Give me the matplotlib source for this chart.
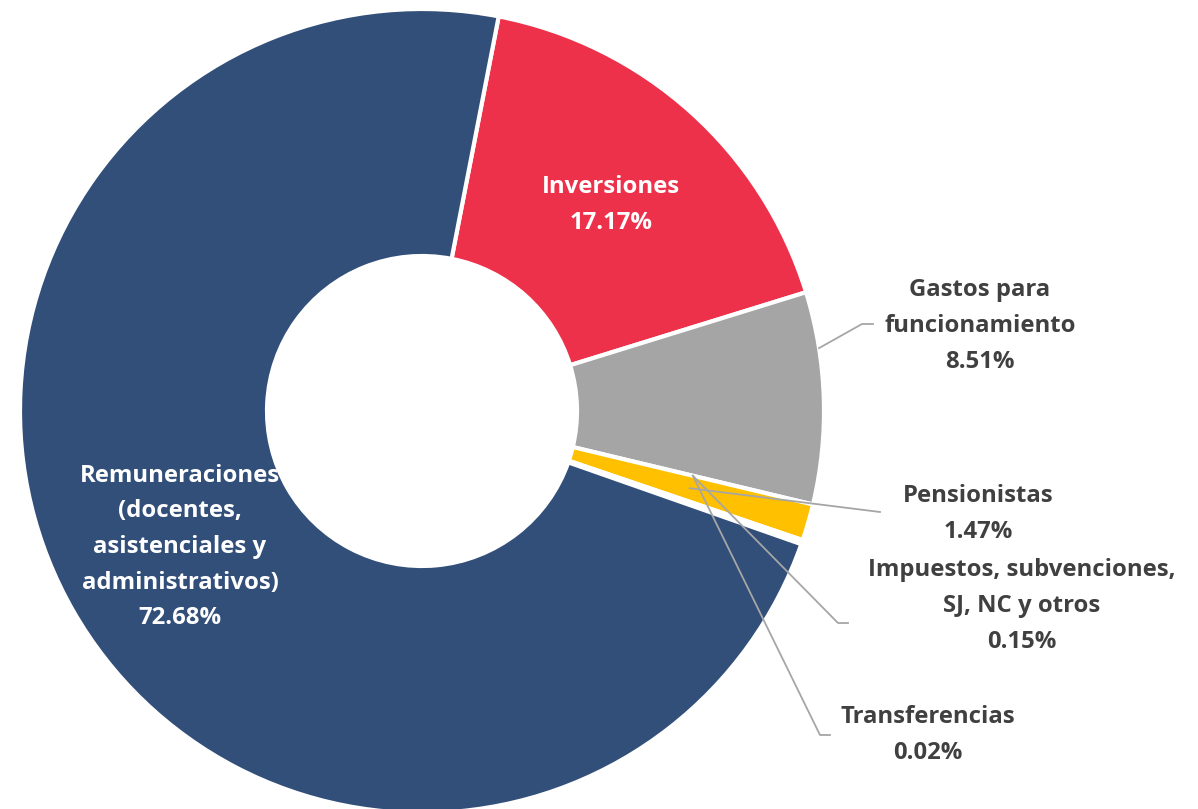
import numpy as np
import matplotlib.pyplot as plt

# datos (orden en sentido horario desde arriba)
categorias = ["Inversiones", "Gastos para\nfuncionamiento", "Pensionistas",
              "Impuestos, subvenciones,\nSJ, NC y otros", "Transferencias",
              "Remuneraciones\n(docentes,\nasistenciales y\nadministrativos)"]
porcentajes = [17.17, 8.51, 1.47, 0.15, 0.02, 72.68]
colores = ["#EE314B", "#A5A5A5", "#FFC000", "#5B9BD5", "#70AD47", "#324F7A"]

H = 809
cx, cy = 422, H - 411
R, r_in = 402, 155

fig = plt.figure(figsize=(11.98, 8.09), dpi=100)
ax = fig.add_axes([0, 0, 1, 1])

wedges, _ = ax.pie(porcentajes, colors=colores, startangle=79, counterclock=False,
                   radius=R, center=(cx, cy), frame=True,
                   wedgeprops=dict(width=R - r_in, edgecolor="white", linewidth=3))
ax.set_xlim(0, 1198)
ax.set_ylim(0, H)
ax.set_aspect("equal")
ax.axis("off")

font = dict(family="Open Sans", fontweight="bold", fontsize=17.2, linespacing=1.65,
            ha="center", va="center")
gris = "#404040"
linea = "#A6A6A6"

def punto(w, frac_r, ang=None):
    if ang is None:
        ang = (w.theta1 + w.theta2) / 2
    rr = r_in + frac_r * (R - r_in)
    return cx + rr * np.cos(np.radians(ang)), cy + rr * np.sin(np.radians(ang))

# etiquetas internas
ax.text(611, H - 205, f"{categorias[0]}\n{porcentajes[0]:.2f}%", color="white", **font)
ax.text(180, H - 547, f"{categorias[5]}\n{porcentajes[5]:.2f}%", color="white", **font)

# etiquetas externas con líneas guía
externas = [
    # indice, centro texto (x, y img), codo (x, y img), fin (x, y img), frac radio, angulo
    (1, (980, 326), (862, 324), (873, 324), 1.0, 9),
    (2, (978, 514), (880, 512), (880, 512), 0.5, None),
    (3, (1022, 606), (838, 623), (848, 623), 0.5, None),
    (4, (928, 735), (820, 735), (830, 735), 0.5, None),
]
for i, (tx, ty), (ex, ey), (fx, fy), fr, ang in externas:
    w = wedges[i]
    if i >= 3:
        sx, sy = punto(wedges[2], 0.5, wedges[2].theta2)
    else:
        sx, sy = punto(w, fr, ang)
    ax.plot([sx, ex, fx], [sy, H - ey, H - fy], color=linea, lw=1.3)
    ax.text(tx, H - ty, f"{categorias[i]}\n{porcentajes[i]:.2f}%", color=gris, **font)

fig.savefig("out.png", dpi=100)
